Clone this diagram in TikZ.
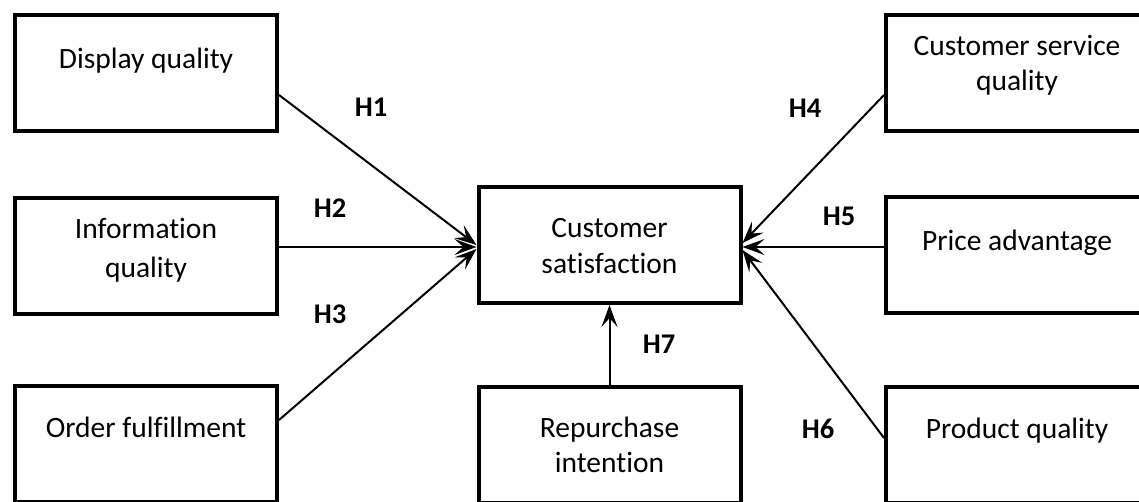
\documentclass[tikz,border=0pt]{standalone}
\usepackage{fontspec}
\setmainfont{Carlito}[Ligatures={NoCommon}]
\usetikzlibrary{arrows.meta,calc}
\begin{document}
\begin{tikzpicture}[x=1pt,y=-1pt,
  box/.style={draw,rectangle,line width=4pt,minimum width=262pt,minimum height=116pt,inner sep=0pt},
  txt/.style={font=\fontsize{29.5}{36}\selectfont,align=center,anchor=base,inner sep=0pt},
  hyp/.style={font=\fontsize{28.5}{34}\selectfont\bfseries,inner sep=0pt},
  link/.style={line width=2pt,-{Stealth[length=22pt,width=16pt,inset=9pt]}}]
\useasboundingbox (0,0) rectangle (1139,501);
\clip (0,0) rectangle (1139,501);
% boxes
\node[box] (b1) at (146,73) {};
\node[box] (b2) at (146,255.5) {};
\node[box] (b3) at (146,444) {};
\node[box] (c)  at (609.5,245) {};
\node[box] (b7) at (609.5,445) {};
\node[box] (b4) at (1017,73) {};
\node[box] (b5) at (1017,255) {};
\node[box] (b6) at (1017,445) {};
% texts
\node[txt] (t1) at (146,68) {Display quality};
\node[txt,font=\fontsize{29.5}{39}\selectfont] (t2) at (146,277) {Information\\quality};
\node[txt] (t3) at (146,437) {Order fulfillment};
\node[txt] (tc) at (609.5,273) {Customer\\satisfaction};
\node[txt,font=\fontsize{29.5}{35}\selectfont] (t7) at (609.5,472) {Repurchase\\intention};
\node[txt,font=\fontsize{29.5}{35}\selectfont] (t4) at (1017,90) {Customer service\\quality};
\node[txt] (t5) at (1017,250) {Price advantage};
\node[txt] (t6) at (1017,438) {Product quality};
% connectors
\draw[link] ($(b1.east)+(0,22)$) -- ($(c.west)+(0,0)$);
\draw[link] ($(b2.east)+(0,-8.5)$) -- ($(c.west)+(0,2)$);
\draw[link] ($(b3.east)+(0,-24)$) -- ($(c.west)+(0,4)$);
\draw[link] ($(b4.west)+(0,22)$) -- ($(c.east)+(0,-2)$);
\draw[link] ($(b5.west)+(0,-8)$) -- ($(c.east)+(0,2)$);
\draw[link] ($(b6.west)+(0,-7)$) -- ($(c.east)+(0,5)$);
\draw[link] (b7.north) -- (c.south);
% labels
\node[hyp] (h1) at (371,107) {H1};
\node[hyp] (h2) at (330,208) {H2};
\node[hyp] (h3) at (330,314) {H3};
\node[hyp] (h4) at (805,108) {H4};
\node[hyp] (h5) at (839,216) {H5};
\node[hyp] (h6) at (818,429) {H6};
\node[hyp] (h7) at (659,344) {H7};
\end{tikzpicture}
\end{document}
